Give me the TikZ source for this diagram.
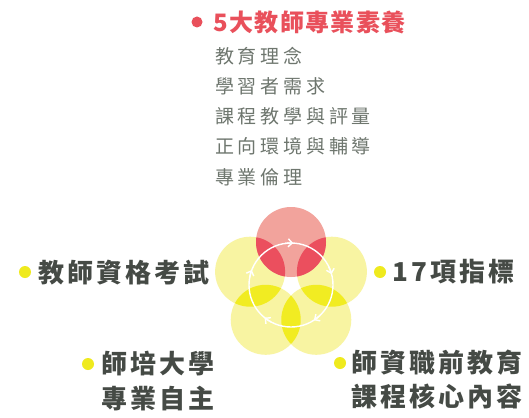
\documentclass[tikz,border=0pt]{standalone}
\usepackage{fontspec}
\setmainfont{Noto Sans CJK TC}
\usetikzlibrary{arrows.meta}
\definecolor{ltyel}{HTML}{F8F4A2}
\definecolor{dkyel}{HTML}{F1EC22}
\definecolor{ltred}{HTML}{F2A39C}
\definecolor{dkred}{HTML}{EB4F5E}
\definecolor{titlered}{HTML}{E9505B}
\definecolor{subgray}{HTML}{6E766E}
\definecolor{labgray}{HTML}{454A45}
\definecolor{bulyel}{HTML}{EFEA1E}
\tikzset{
  x=1pt,y=1pt,
  title/.style={anchor=west,inner sep=0pt,text=titlered,font=\fontsize{24}{24}\selectfont\bfseries\addfontfeature{LetterSpace=6}},
  subitem/.style={anchor=west,inner sep=0pt,text=subgray,font=\fontsize{19}{19}\selectfont\addfontfeature{LetterSpace=20}},
  label/.style={anchor=west,inner sep=0pt,text=labgray,font=\fontsize{26}{26}\selectfont\bfseries\addfontfeature{LetterSpace=12}},
  ybullet/.style={circle,fill=bulyel,inner sep=0pt,minimum size=12pt},
  rbullet/.style={circle,fill=titlered,inner sep=0pt,minimum size=11pt},
  ring/.style={draw=white,line width=1.4pt},
  ringarrow/.style={ring,-{Straight Barb[length=4pt,width=8pt,line width=1.4pt]}}
}
\begin{document}
\begin{tikzpicture}
\useasboundingbox (0,-417) rectangle (529,0);
\fill[white] (0,-417) rectangle (529,0);
\coordinate (C) at (291,-285);
\def\PR{35}
\def\PD{43}
% petals
\foreach \a/\n in {90/pA,18/pB,-54/pC,-126/pD,162/pE}{
  \coordinate (\n) at ([shift={(\a:\PD)}]C);
}
\foreach \n in {pB,pC,pD,pE}{ \fill[ltyel] (\n) circle[radius=\PR]; }
\fill[ltred] (pA) circle[radius=\PR];
% overlaps
\foreach \p/\q/\c in {pA/pB/dkred,pA/pE/dkred,pB/pC/dkyel,pC/pD/dkyel,pD/pE/dkyel}{
  \begin{scope}
    \clip (\p) circle[radius=\PR];
    \fill[\c] (\q) circle[radius=\PR];
  \end{scope}
}
% ring
\draw[ring] (C) circle[radius=42];
\foreach \a in {90,18,-54,-126,162}{
  \draw[ringarrow] ([shift={(\a+8:42)}]C) arc[start angle=\a+8, end angle=\a-3, radius=42];
}
% title
\node[rbullet] (tb) at (197,-22) {};
\node[title] (t) at (213,-22) {5大教師專業素養};
\node[subitem] (s1) at (215,-56) {教育理念};
\node[subitem] (s2) at (215,-86) {學習者需求};
\node[subitem] (s3) at (215,-116) {課程教學與評量};
\node[subitem] (s4) at (215,-146) {正向環境與輔導};
\node[subitem] (s5) at (215,-177) {專業倫理};
% labels
\node[ybullet] (b1) at (25,-272) {};
\node[label] (l1) at (38,-273) {教師資格考試};
\node[ybullet] (b2) at (380,-272) {};
\node[label] (l2) at (392,-272) {17項指標};
\node[ybullet] (b3) at (88,-364) {};
\node[label] (l3a) at (101,-364) {師培大學};
\node[label] (l3b) at (101,-399) {專業自主};
\node[ybullet] (b4) at (340,-363) {};
\node[label] (l4a) at (351,-363) {師資職前教育};
\node[label] (l4b) at (351,-396) {課程核心內容};
\end{tikzpicture}
\end{document}
